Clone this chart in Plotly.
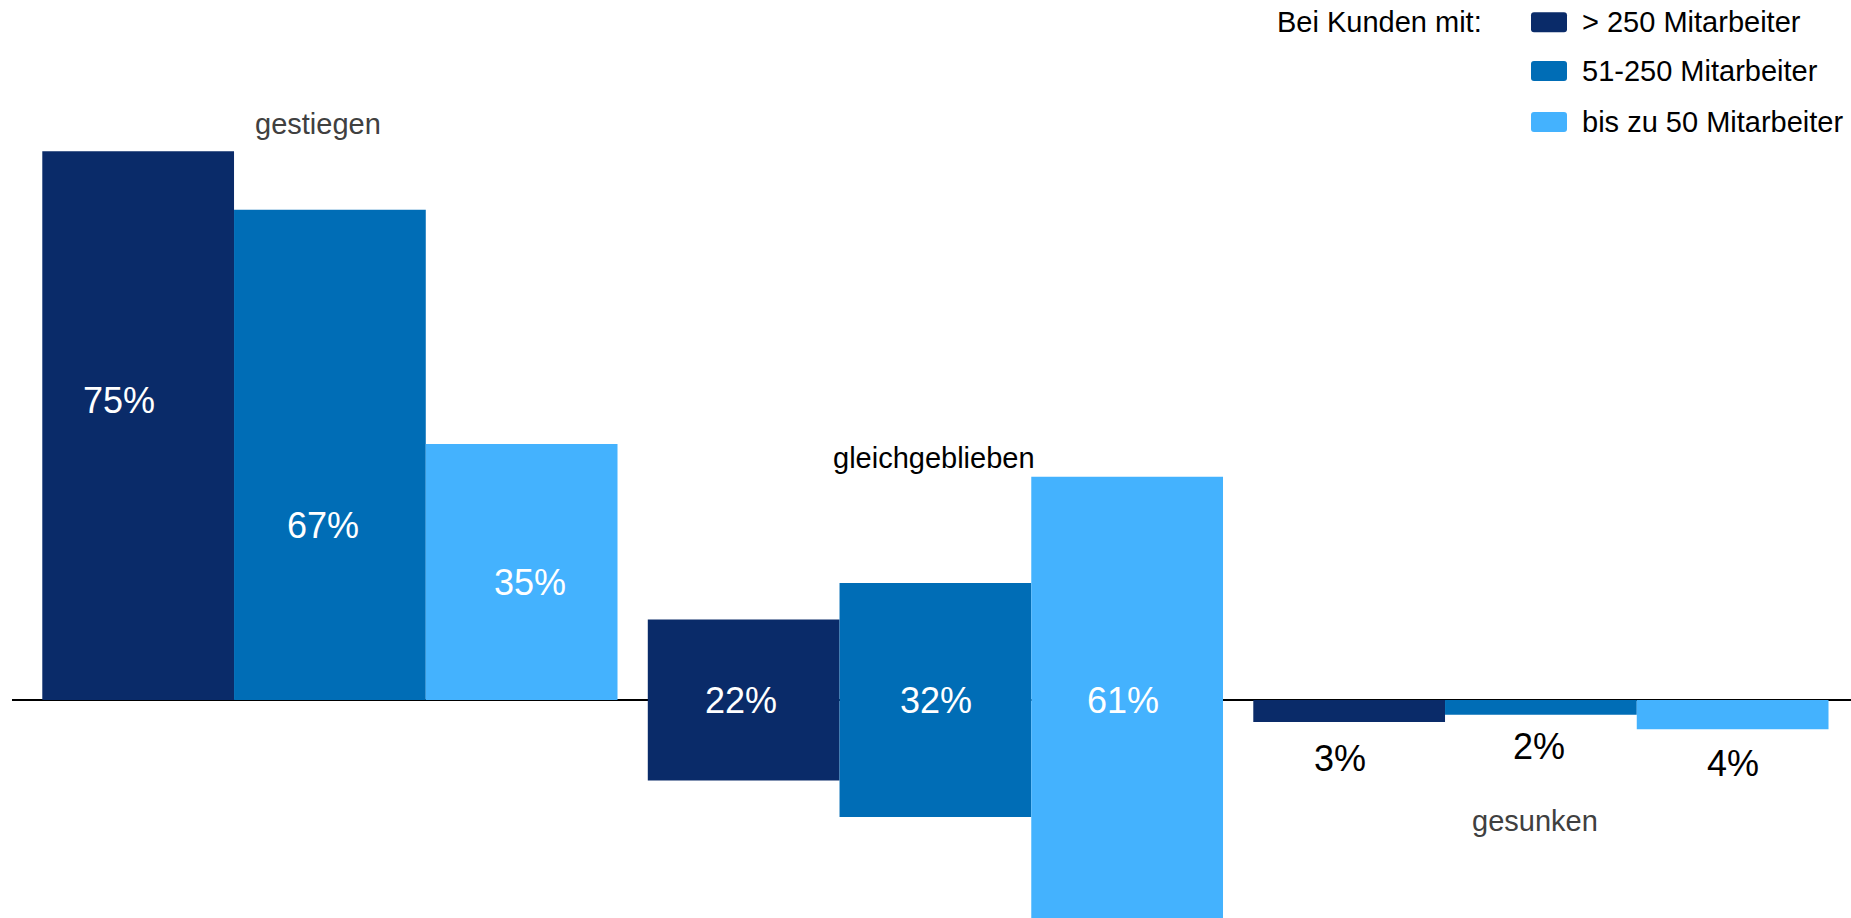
import plotly.graph_objects as go

# ---- data ----
categories = ["gestiegen", "gleichgeblieben", "gesunken"]
series_names = ["> 250 Mitarbeiter", "51-250 Mitarbeiter", "bis zu 50 Mitarbeiter"]
vals_gt250 = [75, 22, 3]
vals_51_250 = [67, 32, 2]
vals_upto50 = [35, 61, 4]
legend_title = "Bei Kunden mit:"

series_values = [vals_gt250, vals_51_250, vals_upto50]
colors = ["#0a2b69", "#006db6", "#44b2fe"]

# label placement tweaks (layout only)
label_y = [[40.9, 0.0, -8.0], [23.8, 0.0, -6.4], [16.0, 0.0, -8.7]]
label_dx = [[-19, -3, -9], [-7, 1, -2], [8, -4, 0]]
label_colors = ["white", "white", "black"]

FONT = "Liberation Sans, Arial, sans-serif"
W, H = 1851, 918
ML = 12
BARGAP = 0.05

fig = go.Figure()
for i, (name, vals) in enumerate(zip(series_names, series_values)):
    ys, bases = [], []
    for j, v in enumerate(vals):
        if j == 0:
            ys.append(v); bases.append(0)
        elif j == 1:
            ys.append(v); bases.append(-v / 2)
        else:
            ys.append(-v); bases.append(0)
    fig.add_trace(go.Bar(
        x=categories, y=ys, base=bases, name=name,
        marker=dict(color=colors[i], line=dict(width=0)),
        showlegend=False, hoverinfo="skip",
    ))

annotations = []
bw = (1 - BARGAP) / 3
for i, vals in enumerate(series_values):
    for j, v in enumerate(vals):
        annotations.append(dict(
            x=j + (i - 1) * bw, y=label_y[i][j], xref="x", yref="y",
            text=f"{v}%", showarrow=False, xshift=label_dx[i][j],
            xanchor="center", yanchor="middle",
            font=dict(family=FONT, size=36, color=label_colors[j]),
        ))

# category labels
cat_pos = [(0, 78.8, -12, "#404040"), (1, 33.1, -1, "#000000"), (2, -16.5, -6, "#404040")]
for (j, y, dx, col), cat in zip(cat_pos, categories):
    annotations.append(dict(
        x=j, y=y, xref="x", yref="y", text=cat, showarrow=False, xshift=dx,
        xanchor="center", yanchor="middle",
        font=dict(family=FONT, size=29, color=col),
    ))

# custom legend
def px_x(px):
    return (px - ML) / (W - ML)

def px_y(py):
    return 1 - py / H

annotations.append(dict(
    x=px_x(1275), y=px_y(22), xref="paper", yref="paper", text=legend_title,
    showarrow=False, xanchor="left", yanchor="middle",
    font=dict(family=FONT, size=29, color="#000000"),
))
shapes = []
row_centers = [22.3, 71, 122]
r = 3
sw, sh = 36, 20
rounded = (f"M {r},0 L {sw-r},0 Q {sw},0 {sw},{r} L {sw},{sh-r} Q {sw},{sh} {sw-r},{sh} "
           f"L {r},{sh} Q 0,{sh} 0,{sh-r} L 0,{r} Q 0,0 {r},0 Z")
for i, name in enumerate(series_names):
    cy = row_centers[i]
    shapes.append(dict(
        type="path", xref="paper", yref="paper",
        xsizemode="pixel", ysizemode="pixel",
        xanchor=px_x(1531), yanchor=px_y(cy + sh / 2),
        path=rounded, fillcolor=colors[i], line=dict(width=0),
    ))
    annotations.append(dict(
        x=px_x(1580), y=px_y(cy), xref="paper", yref="paper", text=name,
        showarrow=False, xanchor="left", yanchor="middle",
        font=dict(family=FONT, size=29, color="#000000"),
    ))

unit = 605.5
y_px_per = 7.316
fig.update_layout(
    width=W, height=H,
    margin=dict(l=ML, r=0, t=0, b=0, pad=0),
    paper_bgcolor="white", plot_bgcolor="white",
    barmode="group", bargap=BARGAP, bargroupgap=0,
    xaxis=dict(range=[(ML - 329.9) / unit, (W - 329.9) / unit],
               showgrid=False, showticklabels=False, zeroline=False, showline=False,
               ticks=""),
    yaxis=dict(range=[-(H - 700) / y_px_per, 700 / y_px_per],
               showgrid=False, showticklabels=False, zeroline=True,
               zerolinecolor="#000000", zerolinewidth=2, showline=False, ticks=""),
    annotations=annotations, shapes=shapes,
    showlegend=False,
)

fig.write_html(
    "out.html",
    config={"displayModeBar": False},
    post_script="document.body.style.margin='0';document.body.style.overflow='hidden';",
)
